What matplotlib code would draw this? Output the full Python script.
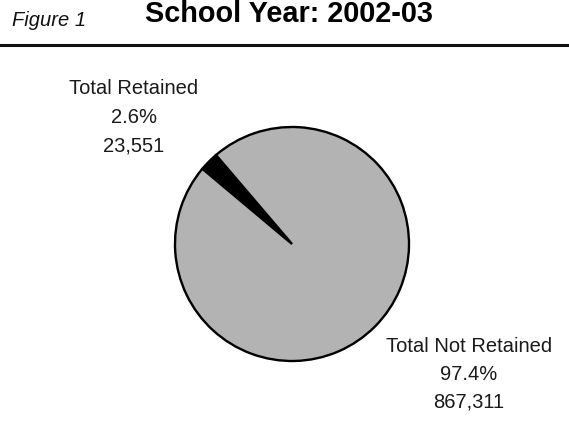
import matplotlib
matplotlib.use("Agg")
import matplotlib.pyplot as plt
from matplotlib.lines import Line2D

# ---- data ----
categories = ["Total Retained", "Total Not Retained"]
counts = [23551, 867311]
colors = ["#000000", "#b3b3b3"]
title = "School Year: 2002-03"
figure_label = "Figure 1"

W, H = 569, 421
DPI = 100
fig = plt.figure(figsize=(W / DPI, H / DPI), dpi=DPI)
fig.patch.set_facecolor("white")

def fx(px):
    return px / W

def fy(py):
    return 1 - py / H

# header
fig.text(fx(12), fy(26), figure_label, fontsize=14.5, style="italic",
         family="Liberation Sans", color="#111111", va="baseline", ha="left")
fig.text(fx(145), fy(21.5), title, fontsize=20.8, weight="bold",
         family="Liberation Sans", color="#000000", va="baseline", ha="left")
fig.add_artist(Line2D([0, 1], [fy(45), fy(45)], transform=fig.transFigure,
                      color="#111111", linewidth=2.2))

# pie
cx, cy, r = 292, 244, 117
ax = fig.add_axes([fx(cx - r), fy(cy + r), 2 * r / W, 2 * r / H])
ax.pie(counts, colors=colors, startangle=130.5, counterclock=True,
       radius=1.0, wedgeprops=dict(edgecolor="black", linewidth=1.7))
ax.set_xlim(-1, 1)
ax.set_ylim(-1, 1)
ax.set_aspect("equal")
ax.axis("off")

total = sum(counts)
label_pos = [(134, [94, 123, 151.5]), (469, [352, 380, 407.5])]
for (name, val), (x, ys) in zip(zip(categories, counts), label_pos):
    lines = [name, f"{100 * val / total:.1f}%", f"{val:,}"]
    for line, y in zip(lines, ys):
        fig.text(fx(x), fy(y), line, fontsize=14.5, family="Liberation Sans",
                 color="#1a1a1a", ha="center", va="baseline")

fig.savefig("out.png", dpi=DPI, facecolor="white")
